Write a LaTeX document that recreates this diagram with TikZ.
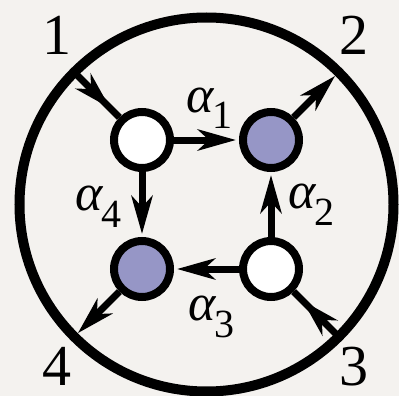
\documentclass[tikz,border=0pt]{standalone}
\usepackage{fontspec}
\setmainfont{Liberation Serif}
\newfontfamily\lserif{Liberation Serif}
\usetikzlibrary{arrows.meta,decorations.markings}
\definecolor{bgc}{HTML}{F4F2EF}
\definecolor{vbluec}{HTML}{9696C6}
\newcommand\alab[1]{{\lserif\fontsize{52}{52}\selectfont\itshape α}\kern-1pt\raisebox{-17pt}{\lserif\fontsize{40}{40}\selectfont #1}}
\tikzset{
  vwhite/.style={circle, draw=black, line width=8pt, fill=white, minimum size=56pt, inner sep=0pt},
  vblue/.style={vwhite, fill=vbluec},
  inedge/.style={line width=7pt, -{Stealth[length=38pt,width=21pt,inset=11pt]}, shorten >=3pt},
  outedge/.style={line width=7pt, -{Stealth[length=38pt,width=21pt,inset=11pt]}, shorten >=5pt},
  midedge/.style={line width=7pt, postaction={decorate},
    decoration={markings, mark=at position 0.8 with {\arrow{Stealth[length=38pt,width=21pt,inset=11pt]}}}},
  numlab/.style={anchor=base, inner sep=0pt, font=\lserif\fontsize{58}{58}\selectfont},
  alphalab/.style={anchor=base west, inner sep=0pt}
}
\begin{document}
\begin{tikzpicture}[x=1pt,y=-1pt]
\path[fill=bgc, use as bounding box] (0,0) rectangle (399,396);
\node[circle, draw=black, line width=10pt, minimum size=374pt, inner sep=0pt, outer sep=0pt] (ring) at (206.5,204.5) {};
\node[vwhite] (TL) at (142,140) {};
\node[vblue]  (TR) at (271,140) {};
\node[vblue]  (BL) at (142,269) {};
\node[vwhite] (BR) at (271,269) {};
\draw[inedge] (TL) -- (TR);
\draw[inedge] (TL) -- (BL);
\draw[inedge] (BR) -- (TR);
\draw[inedge] (BR) -- (BL);
\draw[midedge] (ring.135) -- (TL);
\draw[midedge] (ring.-45) -- (BR);
\draw[outedge] (TR) -- (ring.45);
\draw[outedge] (BL) -- (ring.-135);
\node[numlab] (n1) at (57,55) {1};
\node[numlab] (n2) at (354,55) {2};
\node[numlab] (n3) at (354,385) {3};
\node[numlab] (n4) at (57,385) {4};
\node[alphalab] (a1) at (186,112) {\alab{1}};
\node[alphalab] (a4) at (75,210) {\alab{4}};
\node[alphalab] (a2) at (288,208) {\alab{2}};
\node[alphalab] (a3) at (188,320) {\alab{3}};
\end{tikzpicture}
\end{document}
